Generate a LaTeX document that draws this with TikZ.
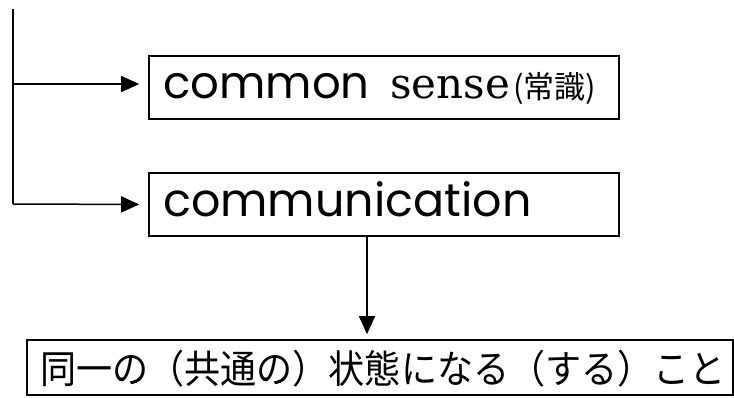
\documentclass[tikz,border=0pt]{standalone}
\usepackage{fontspec}
\newfontfamily\geofont{Poppins}
\newfontfamily\serfont{DejaVu Serif}
\newfontfamily\cjk{Noto Sans CJK JP}
\usetikzlibrary{arrows.meta}
\begin{document}
\begin{tikzpicture}[x=1pt,y=-1pt,
  boxstyle/.style={draw,line width=1.6pt,inner sep=0pt,anchor=center},
  conn/.style={line width=1.5pt,-{Triangle[length=18pt,width=16pt]}},
  lineonly/.style={line width=1.5pt},
  txt/.style={inner sep=0pt,anchor=base west}]
\useasboundingbox (0,0) rectangle (734,397);
\node[boxstyle,minimum width=470pt,minimum height=63pt] (cs) at (384,87.5) {};
\node[txt] (cstext) at (163,98) {\geofont\fontsize{45}{45}\selectfont common};
\node[txt] (senstext) at (390,98) {\serfont\fontsize{42}{42}\selectfont sense};
\node[txt] (jptext) at (513,98) {\cjk\fontsize{31}{31}\selectfont (常識)};
\node[boxstyle,minimum width=470pt,minimum height=63pt] (cm) at (384,204.5) {};
\node[txt] (cmtext) at (163,216) {\geofont\fontsize{46}{46}\selectfont communication};
\node[boxstyle,minimum width=706pt,minimum height=55pt] (st) at (380,367.5) {};
\node[inner sep=0pt] (sttext) at (383,369) {\scalebox{0.925}[1]{\cjk\fontsize{39}{39}\selectfont 同一の（共通の）状態になる（する）こと}};
\coordinate (top) at (13,9);
\coordinate (bend1) at (13,84);
\coordinate (bend2) at (13,204);
\draw[lineonly] (top) -- (bend2);
\draw[conn,shorten >=9pt] (bend1) -- (bend1 -| cs.west);
\draw[conn,shorten >=9pt] (bend2) -- (cm.west);
\draw[conn,shorten >=5pt] (cm.south -| 367,0) -- (st.north -| 367,0);
\end{tikzpicture}
\end{document}
